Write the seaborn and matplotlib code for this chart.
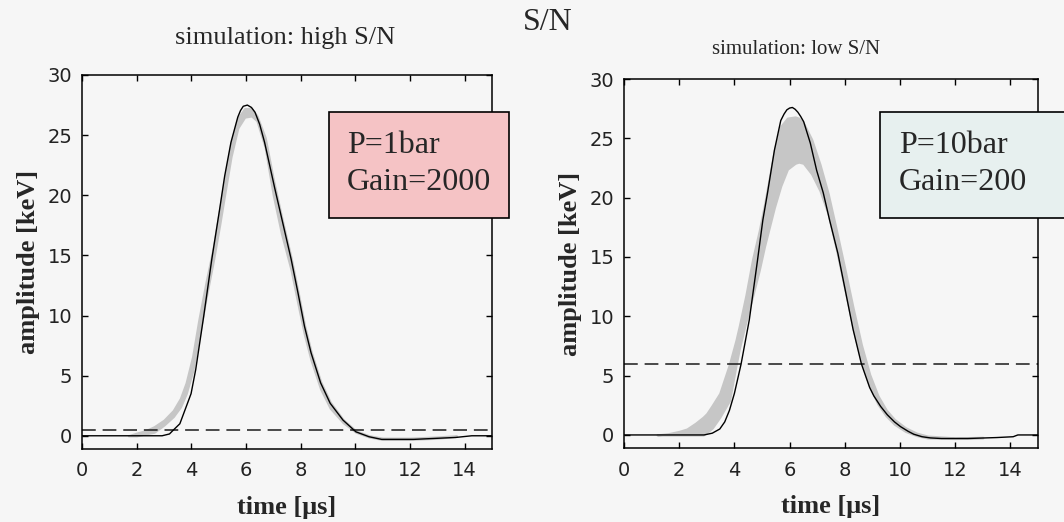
import numpy as np
import matplotlib
matplotlib.use("Agg")
import matplotlib.pyplot as plt
from matplotlib.patches import Rectangle
import seaborn as sns

# ---- data -------------------------------------------------------------
# reference pulse, high S/N panel (time in us, amplitude in keV)
hi_ref_t = [0.0, 2.93, 3.2, 3.34, 3.58, 3.81, 3.99, 4.16, 4.45, 4.75, 5.04, 5.22,
            5.45, 5.7, 5.8, 5.9, 6.05, 6.2, 6.33, 6.5, 6.68, 7.05, 7.65, 7.9, 8.14,
            8.38, 8.73, 9.08, 9.55, 10.02, 10.5, 10.96, 12.14, 13.67, 14.26, 15.0]
hi_ref_a = [0.0, 0.0, 0.15, 0.47, 1.0, 2.4, 3.5, 5.5, 9.9, 14.7, 18.9, 21.6,
            24.4, 26.5, 27.05, 27.4, 27.5, 27.3, 26.9, 25.9, 24.4, 20.6, 14.7, 11.9, 9.1,
            6.9, 4.4, 2.7, 1.3, 0.33, -0.08, -0.3, -0.3, -0.14, 0.0, 0.0]

# spread of simulated pulses, high S/N panel
hi_band_t = [1.7, 2.0, 2.3, 2.64, 3.0, 3.34, 3.6, 3.81, 4.05, 4.28, 4.55, 4.8,
             5.04, 5.25, 5.45, 5.7, 5.95, 6.2, 6.4, 6.7, 7.0, 7.3, 7.65, 7.9,
             8.14, 8.38, 8.73, 9.08, 9.55, 10.02, 10.5, 11.0, 12.0, 13.0, 13.7]
hi_band_top = [0.0, 0.22, 0.4, 0.75, 1.3, 2.1, 3.1, 4.4, 6.6, 9.7, 12.9, 15.6,
               18.9, 21.8, 24.3, 26.4, 27.2, 27.2, 26.6, 24.8, 21.3, 18.2, 14.8, 12.0,
               9.2, 7.0, 4.5, 2.8, 1.35, 0.4, 0.0, -0.2, -0.2, -0.1, 0.0]
hi_band_bot = [0.0, 0.0, 0.15, 0.3, 0.9, 1.6, 2.4, 3.5, 5.4, 8.2, 11.6, 14.5,
               17.6, 20.5, 23.2, 25.6, 26.5, 26.6, 26.2, 24.0, 20.0, 16.8, 13.8, 11.0,
               8.4, 6.3, 3.9, 2.3, 1.1, 0.3, -0.1, -0.3, -0.3, -0.2, -0.05]

# reference pulse, low S/N panel
lo_ref_t = [0.0, 2.9, 3.2, 3.47, 3.65, 3.82, 4.0, 4.24, 4.54, 4.83, 5.03, 5.2,
            5.45, 5.68, 5.8, 5.9, 6.0, 6.1, 6.2, 6.3, 6.4, 6.51, 6.75, 6.98, 7.22,
            7.45, 7.75, 8.0, 8.3, 8.6, 8.9, 9.05, 9.3, 9.54, 9.8, 10.02, 10.3, 10.5,
            10.8, 11.1, 11.5, 12.45, 13.5, 14.1, 14.27, 15.0]
lo_ref_a = [0.0, 0.0, 0.15, 0.5, 1.1, 2.07, 3.5, 5.95, 9.7, 14.6, 18.1, 20.4,
            24.0, 26.5, 27.05, 27.4, 27.55, 27.6, 27.45, 27.2, 26.85, 26.4, 24.6, 22.3, 20.4,
            18.1, 15.3, 12.4, 8.9, 6.0, 4.0, 3.3, 2.4, 1.7, 1.1, 0.7, 0.3, 0.06,
            -0.15, -0.25, -0.3, -0.3, -0.22, -0.15, 0.0, 0.0]

# spread of simulated pulses, low S/N panel
lo_band_t = [1.2, 1.6, 2.0, 2.28, 2.6, 2.87, 3.0, 3.2, 3.47, 3.82, 4.06, 4.18,
             4.42, 4.66, 4.9, 5.09, 5.45, 5.68, 5.92, 6.2, 6.33, 6.5, 6.8, 7.1,
             7.4, 7.7, 8.0, 8.3, 8.6, 8.9, 9.2, 9.5, 9.8, 10.2, 10.6, 11.0, 12.0, 13.0]
lo_band_top = [0.0, 0.1, 0.3, 0.5, 1.0, 1.5, 1.8, 2.5, 3.5, 5.95, 8.0, 9.2,
               11.8, 14.8, 17.2, 19.4, 24.0, 26.0, 26.7, 26.8, 26.7, 26.3, 24.9, 22.8,
               20.3, 17.2, 14.0, 10.7, 7.6, 5.1, 3.3, 2.1, 1.3, 0.6, 0.15, -0.1, -0.25, -0.2]
lo_band_bot = [0.0, 0.0, 0.0, 0.0, 0.0, 0.0, 0.2, 0.6, 1.5, 2.9, 5.9, 7.3,
               9.6, 11.7, 13.9, 15.9, 19.2, 21.0, 22.4, 22.9, 23.0, 22.9, 22.0, 20.6,
               18.6, 15.6, 12.3, 9.0, 6.2, 4.1, 2.6, 1.6, 0.9, 0.3, -0.05, -0.25, -0.3, -0.25]

thresholds = [0.5, 6.0]
titles = ["simulation: high S/N", "simulation: low S/N"]
box_lines = [["P=1bar", "Gain=2000"], ["P=10bar", "Gain=200"]]
box_colors = ["#f5c3c5", "#e7f0ef"]
y_ticks = [0, 5, 10, 15, 20, 25, 30]
x_ticks = [0, 2, 4, 6, 8, 10, 12, 14]

# ---- style ------------------------------------------------------------
sns.set_theme(style="ticks")
bg = "#f6f6f6"
plt.rcParams.update({
    "figure.facecolor": bg,
    "axes.facecolor": bg,
    "axes.edgecolor": "black",
    "axes.linewidth": 1.1,
    "xtick.direction": "in",
    "ytick.direction": "in",
    "xtick.top": True,
    "ytick.right": True,
    "xtick.major.size": 4,
    "ytick.major.size": 4,
    "xtick.major.width": 1.0,
    "ytick.major.width": 1.0,
    "xtick.color": "black",
    "ytick.color": "black",
    "xtick.labelcolor": "#222222",
    "ytick.labelcolor": "#222222",
})
plt.rcParams["font.family"] = ["DejaVu Sans"]

W, H = 1064, 522
fig = plt.figure(figsize=(W / 100, H / 100), dpi=100)


def fx(px):
    return px / W


def fy(py):
    return 1 - py / H


ax_l = fig.add_axes([fx(82), fy(449), fx(492 - 82), (449 - 75) / H])
ax_r = fig.add_axes([fx(624), fy(448), fx(1038 - 624), (448 - 79) / H])

panels = [
    (ax_l, hi_ref_t, hi_ref_a, hi_band_t, hi_band_top, hi_band_bot),
    (ax_r, lo_ref_t, lo_ref_a, lo_band_t, lo_band_top, lo_band_bot),
]

serif = ["Liberation Serif", "DejaVu Serif"]
for i, (ax, rt, ra, bt, btop, bbot) in enumerate(panels):
    ax.fill_between(bt, bbot, btop, color="#c6c6c6", edgecolor="#c6c6c6",
                    linewidth=1.6, zorder=1)
    sns.lineplot(x=rt, y=ra, ax=ax, color="black", linewidth=1.0,
                 sort=False, estimator=None, zorder=3)
    ax.axhline(thresholds[i], color="#1a1a1a", linewidth=1.1,
               linestyle=(0, (9, 4.5)), zorder=2)
    ax.set_xlim(0, 15)
    ax.set_ylim(-1.1, 30)
    ax.set_xticks(x_ticks)
    ax.set_yticks(y_ticks)
    ax.tick_params(labelsize=14, pad=7)
    ax.tick_params(axis="x", pad=9)
    ax.set_xlabel("time [μs]", fontfamily=serif, fontsize=19,
                  fontweight="bold", labelpad=11)
    ax.set_ylabel("amplitude [keV]", fontfamily=serif, fontsize=19,
                  fontweight="bold", labelpad=5)
    for s in ax.spines.values():
        s.set_visible(True)

# panel titles
fig.text(fx(285), fy(38), titles[0], ha="center", va="center",
         fontfamily=serif, fontsize=19)
fig.text(fx(796), fy(50), titles[1], ha="center", va="center",
         fontfamily=serif, fontsize=15)

# figure heading
fig.text(fx(548), fy(22), "S/N", ha="center", va="center",
         fontfamily=serif, fontsize=23)

# parameter boxes
boxes = [(329, 509, 112, 218, 347), (880, 1070, 112, 218, 899)]
for (x0, x1, y0, y1, tx), lines, col in zip(boxes, box_lines, box_colors):
    rect = Rectangle((fx(x0), fy(y1)), fx(x1 - x0), (y1 - y0) / H,
                     transform=fig.transFigure, facecolor=col,
                     edgecolor="black", linewidth=1.2, zorder=10)
    fig.add_artist(rect)
    fig.text(fx(tx), fy(153), lines[0], ha="left", va="baseline",
             fontfamily=serif, fontsize=23, zorder=11)
    fig.text(fx(tx), fy(190), lines[1], ha="left", va="baseline",
             fontfamily=serif, fontsize=23, zorder=11)

fig.savefig("out.png", dpi=100, facecolor=bg)
